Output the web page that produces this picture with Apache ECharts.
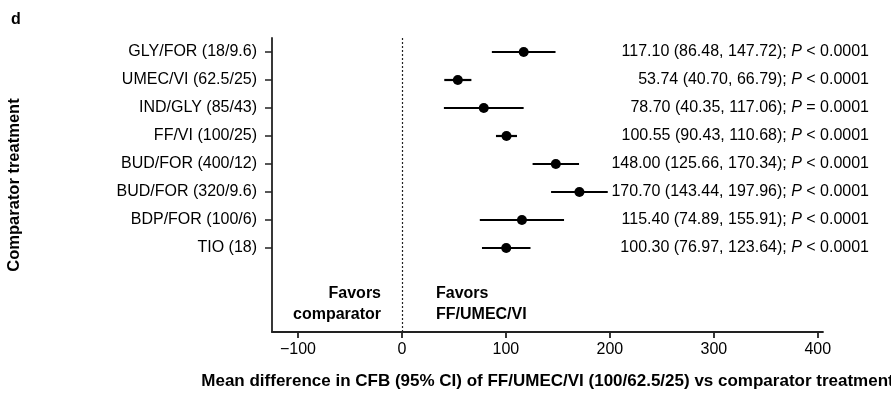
<!DOCTYPE html>
<html>
<head>
<meta charset="utf-8">
<script src="https://cdn.jsdelivr.net/npm/echarts@6/dist/echarts.min.js"></script>
<style>
html,body{margin:0;padding:0;background:#fff;}
#chart{width:891px;height:394px;}
</style>
</head>
<body>
<div id="chart"></div>
<script>
const categories = ['GLY/FOR (18/9.6)', 'UMEC/VI (62.5/25)', 'IND/GLY (85/43)', 'FF/VI (100/25)', 'BUD/FOR (400/12)', 'BUD/FOR (320/9.6)', 'BDP/FOR (100/6)', 'TIO (18)'];
const means = [117.10, 53.74, 78.70, 100.55, 148.00, 170.70, 115.40, 100.30];
const lowers = [86.48, 40.70, 40.35, 90.43, 125.66, 143.44, 74.89, 76.97];
const uppers = [147.72, 66.79, 117.06, 110.68, 170.34, 197.96, 155.91, 123.64];
const pTexts = ['< 0.0001', '< 0.0001', '= 0.0001', '< 0.0001', '< 0.0001', '< 0.0001', '< 0.0001', '< 0.0001'];
const xTicks = [-100, 0, 100, 200, 300, 400];
const rowPos = categories.map((_, i) => i + 1);

const FONT = 'Liberation Sans, Arial, sans-serif';
const INK = '#000';

const chart = echarts.init(document.getElementById('chart'), null, {renderer: 'canvas'});

const fmt2 = v => v.toFixed(2);

chart.setOption({
  animation: false,
  backgroundColor: '#fff',
  textStyle: {fontFamily: FONT, color: INK},
  grid: {left: 272, right: 68, top: 38, bottom: 62, containLabel: false, outerBoundsMode: 'none'},
  xAxis: {
    type: 'value',
    min: -125, max: 405,
    name: 'Mean difference in CFB (95% CI) of FF/UMEC/VI (100/62.5/25) vs comparator treatment',
    nameLocation: 'middle',
    nameGap: 41,
    nameTextStyle: {fontFamily: FONT, fontWeight: 'bold', fontSize: 17, color: INK},
    axisLine: {show: true, onZero: false, lineStyle: {color: '#222', width: 1.8}},
    axisTick: {show: true, length: 6, customValues: xTicks, lineStyle: {color: '#222', width: 1.8}},
    axisLabel: {customValues: xTicks, fontFamily: FONT, fontSize: 16, color: INK, margin: 10,
      formatter: v => v < 0 ? '\u2212' + Math.abs(v) : String(v)},
    splitLine: {show: false}
  },
  yAxis: [{
    type: 'value',
    inverse: true,
    min: 0.5, max: 11,
    position: 'left',
    name: 'Comparator treatment',
    nameLocation: 'middle',
    nameGap: 249,
    nameTextStyle: {fontFamily: FONT, fontWeight: 'bold', fontSize: 16.5, color: INK},
    axisLine: {show: true, onZero: false, lineStyle: {color: '#222', width: 1.8}},
    axisTick: {show: true, length: 7, customValues: rowPos, lineStyle: {color: '#222', width: 1.5}},
    axisLabel: {customValues: rowPos, fontFamily: FONT, fontSize: 16, color: INK, margin: 15,
      formatter: v => categories[Math.round(v) - 1] || ''},
    splitLine: {show: false}
  }, {
    type: 'value',
    inverse: true,
    min: 0.5, max: 11,
    position: 'right',
    axisLine: {show: false, onZero: false},
    axisTick: {show: false},
    axisLabel: {customValues: rowPos, align: 'right', margin: 46, fontFamily: FONT, fontSize: 16, color: INK,
      formatter: v => {
        const i = Math.round(v) - 1;
        if (i < 0 || i >= means.length) return '';
        return '{n|' + fmt2(means[i]) + ' (' + fmt2(lowers[i]) + ', ' + fmt2(uppers[i]) + '); }{i|P}{n| ' + pTexts[i] + '}';
      },
      rich: {
        n: {fontFamily: FONT, fontSize: 16, color: INK},
        i: {fontFamily: FONT, fontSize: 16, color: INK, fontStyle: 'italic'}
      }
    },
    splitLine: {show: false}
  }],
  series: [{
    type: 'custom',
    xAxisIndex: 0, yAxisIndex: 0,
    data: rowPos.map((p, i) => [lowers[i], uppers[i], p]),
    renderItem: (params, api) => {
      const a = api.coord([api.value(0), api.value(2)]);
      const b = api.coord([api.value(1), api.value(2)]);
      return {type: 'line', shape: {x1: a[0], y1: a[1], x2: b[0], y2: b[1]},
        style: {stroke: INK, lineWidth: 2.2}};
    },
    z: 2
  }, {
    type: 'scatter',
    xAxisIndex: 0, yAxisIndex: 0,
    data: rowPos.map((p, i) => [means[i], p]),
    symbol: 'circle',
    symbolSize: 10,
    itemStyle: {color: INK, opacity: 1},
    z: 3,
    markLine: {
      silent: true,
      symbol: ['none', 'none'],
      label: {show: false},
      lineStyle: {color: '#222', type: [2, 2], width: 1.2},
      data: [{xAxis: 0}]
    }
  }],
  graphic: [
    {type: 'text', left: 11, top: 12, style: {text: 'd', font: 'bold 16px ' + FONT, fill: INK}},
    {type: 'text', x: 381, y: 283, style: {text: 'Favors\ncomparator', font: 'bold 16px ' + FONT, fill: INK, align: 'right', lineHeight: 21}},
    {type: 'text', x: 436, y: 283, style: {text: 'Favors\nFF/UMEC/VI', font: 'bold 16px ' + FONT, fill: INK, align: 'left', lineHeight: 21}}
  ]
});
</script>
</body>
</html>
